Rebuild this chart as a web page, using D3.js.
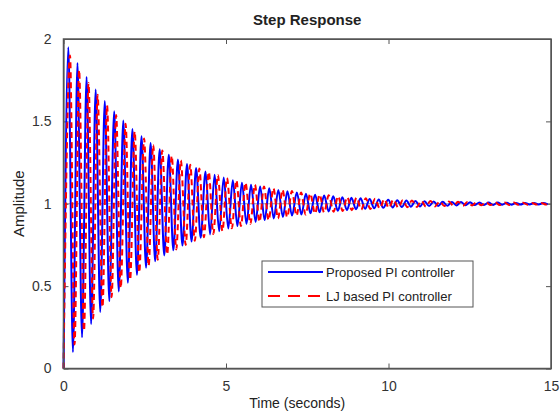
<!DOCTYPE html>
<html>
<head>
<meta charset="utf-8">
<script src="https://cdn.jsdelivr.net/npm/d3@7"></script>
<style>
  body { margin: 0; background: #fff; }
  svg { font-family: "Liberation Sans", Arial, sans-serif; }
  .axis path, .axis line { stroke: #555; }
  .axis text { fill: #333; font-size: 14px; }
</style>
</head>
<body>
<div class="chart"></div>
<script>
// Chart data
var xTicks = [0, 5, 10, 15];
var yTicks = [0, 0.5, 1, 1.5, 2];
var finalValue = 1;
var seriesNames = ["Proposed PI controller", "LJ based PI controller"];

// Proposed PI controller: start point and successive peaks / troughs
var propT = [0, 0.15, 0.29, 0.43, 0.57, 0.71, 0.85, 0.99, 1.13, 1.27, 1.41, 1.56, 1.70, 1.84, 1.98, 2.12, 2.26, 2.40, 2.54, 2.68, 2.82,
  2.96, 3.10, 3.24, 3.38, 3.52, 3.66, 3.80, 3.94, 4.08, 4.22, 4.37, 4.51, 4.65, 4.79, 4.93, 5.07, 5.21, 5.35, 5.49, 5.63,
  5.77, 5.91, 6.05, 6.19, 6.33, 6.47, 6.61, 6.75, 6.89, 7.03, 7.18, 7.32, 7.46, 7.60, 7.74, 7.88, 8.02, 8.16, 8.30, 8.44,
  8.58, 8.72, 8.86, 9.00, 9.14, 9.28, 9.42, 9.56, 9.70, 9.84, 9.99, 10.13, 10.27, 10.41, 10.55, 10.69, 10.83, 10.97, 11.11, 11.25,
  11.39, 11.53, 11.67, 11.81, 11.95, 12.09, 12.23, 12.37, 12.51, 12.65, 12.80, 12.94, 13.08, 13.22, 13.36, 13.50, 13.64, 13.78, 13.92, 14.06,
  14.20, 14.34, 14.48, 14.62, 14.76, 14.90];
var propY = [0, 1.95, 0.099, 1.855, 0.189, 1.77, 0.27, 1.693, 0.343, 1.623, 0.409, 1.561, 0.468, 1.505, 0.521, 1.454, 0.569, 1.409, 0.612, 1.368, 0.651,
  1.331, 0.686, 1.298, 0.717, 1.268, 0.746, 1.241, 0.771, 1.217, 0.794, 1.196, 0.814, 1.176, 0.833, 1.159, 0.85, 1.143, 0.865, 1.128, 0.878,
  1.116, 0.89, 1.104, 0.901, 1.094, 0.911, 1.084, 0.92, 1.076, 0.928, 1.068, 0.935, 1.061, 0.942, 1.055, 0.948, 1.05, 0.953, 1.045, 0.958,
  1.04, 0.962, 1.036, 0.966, 1.033, 0.969, 1.029, 0.972, 1.026, 0.975, 1.024, 0.978, 1.021, 0.98, 1.019, 0.982, 1.017, 0.984, 1.015, 0.986,
  1.014, 0.987, 1.012, 0.988, 1.011, 0.99, 1.01, 0.991, 1.009, 0.992, 1.008, 0.992, 1.007, 0.993, 1.007, 0.994, 1.006, 0.994, 1.005, 0.995,
  1.005, 0.996, 1.004, 0.996, 1.004, 0.996];

// LJ based PI controller: start point and successive peaks / troughs
var ljT = [0, 0.20, 0.34, 0.48, 0.63, 0.77, 0.91, 1.05, 1.20, 1.34, 1.48, 1.62, 1.76, 1.91, 2.05, 2.19, 2.33, 2.48, 2.62, 2.76, 2.90,
  3.04, 3.19, 3.33, 3.47, 3.61, 3.76, 3.90, 4.04, 4.18, 4.32, 4.47, 4.61, 4.75, 4.89, 5.03, 5.18, 5.32, 5.46, 5.60, 5.75,
  5.89, 6.03, 6.17, 6.31, 6.46, 6.60, 6.74, 6.88, 7.03, 7.17, 7.31, 7.45, 7.59, 7.74, 7.88, 8.02, 8.16, 8.31, 8.45, 8.59,
  8.73, 8.87, 9.02, 9.16, 9.30, 9.44, 9.59, 9.73, 9.87, 10.01, 10.15, 10.30, 10.44, 10.58, 10.72, 10.87, 11.01, 11.15, 11.29, 11.43,
  11.58, 11.72, 11.86, 12.00, 12.14, 12.29, 12.43, 12.57, 12.71, 12.86, 13.00, 13.14, 13.28, 13.42, 13.57, 13.71, 13.85, 13.99, 14.14, 14.28,
  14.42, 14.56, 14.70, 14.85, 14.99];
var ljY = [0, 1.90, 0.145, 1.812, 0.229, 1.733, 0.304, 1.662, 0.372, 1.597, 0.433, 1.539, 0.488, 1.486, 0.538, 1.439, 0.583, 1.396, 0.624, 1.357, 0.66,
  1.323, 0.693, 1.291, 0.723, 1.263, 0.75, 1.237, 0.775, 1.214, 0.797, 1.193, 0.816, 1.174, 0.834, 1.157, 0.851, 1.142, 0.865, 1.128, 0.878,
  1.116, 0.89, 1.104, 0.901, 1.094, 0.911, 1.085, 0.919, 1.077, 0.927, 1.069, 0.934, 1.062, 0.941, 1.056, 0.946, 1.051, 0.952, 1.046, 0.956,
  1.041, 0.961, 1.037, 0.964, 1.034, 0.968, 1.031, 0.971, 1.028, 0.974, 1.025, 0.976, 1.022, 0.979, 1.02, 0.981, 1.018, 0.983, 1.016, 0.984,
  1.015, 0.986, 1.013, 0.987, 1.012, 0.988, 1.011, 0.99, 1.01, 0.991, 1.009, 0.992, 1.008, 0.992, 1.007, 0.993, 1.007, 0.994, 1.006, 0.994,
  1.005, 0.995, 1.005, 0.995, 1.004];

// Set up chart
var svgWidth = 560;
var svgHeight = 412;
var margin = {top: 39, right: 9, bottom: 43.5, left: 63.5};
var width = svgWidth - margin.left - margin.right;
var height = svgHeight - margin.top - margin.bottom;

var svg = d3.select(".chart").append("svg")
  .attr("width", svgWidth)
  .attr("height", svgHeight);

var chart = svg.append("g")
  .attr("transform", "translate(" + margin.left + "," + margin.top + ")");

var x = d3.scaleLinear().domain([0, 15]).range([0, width]);
var y = d3.scaleLinear().domain([0, 2]).range([height, 0]);

// White plot box
chart.append("rect")
  .attr("width", width).attr("height", height)
  .attr("fill", "#fff");

// Axes, ticks inside, mirrored on top and right
chart.append("g").attr("class", "axis")
  .attr("transform", "translate(0," + height + ")")
  .call(d3.axisBottom(x).tickValues(xTicks).tickSizeInner(-5).tickSizeOuter(0).tickPadding(13));
chart.append("g").attr("class", "axis")
  .call(d3.axisLeft(y).tickValues(yTicks).tickSizeInner(-5).tickSizeOuter(0).tickPadding(12)
    .tickFormat(d3.format("")));
chart.append("g").attr("class", "axis")
  .call(d3.axisTop(x).tickValues(xTicks).tickSizeInner(-5).tickSizeOuter(0).tickFormat(""));
chart.append("g").attr("class", "axis")
  .attr("transform", "translate(" + width + ",0)")
  .call(d3.axisRight(y).tickValues(yTicks).tickSizeInner(-5).tickSizeOuter(0).tickFormat(""));

// Steady state line
chart.append("line")
  .attr("x1", x(0)).attr("x2", x(15))
  .attr("y1", y(finalValue)).attr("y2", y(finalValue))
  .attr("stroke", "#333").attr("stroke-width", 1)
  .attr("stroke-dasharray", "1,1");

var line = d3.line()
  .x(function(d) { return x(d[0]); })
  .y(function(d) { return y(d[1]); })
  .curve(d3.curveMonotoneX);

chart.append("path")
  .datum(d3.zip(propT, propY))
  .attr("d", line)
  .attr("fill", "none")
  .attr("stroke", "#0000ff")
  .attr("stroke-width", 2);

chart.append("path")
  .datum(d3.zip(ljT, ljY))
  .attr("d", line)
  .attr("fill", "none")
  .attr("stroke", "#ff0000")
  .attr("stroke-width", 2)
  .attr("stroke-dasharray", "6,4");

// Frame
chart.append("rect")
  .attr("width", width).attr("height", height)
  .attr("fill", "none").attr("stroke", "#555").attr("stroke-width", 1.5);

// Legend
var legend = svg.append("g").attr("transform", "translate(262,261)");
legend.append("rect")
  .attr("width", 211).attr("height", 46)
  .attr("fill", "#fff").attr("stroke", "#555");
var legendColors = ["#0000ff", "#ff0000"];
var legendDash = [null, "12,8"];
seriesNames.forEach(function(name, i) {
  legend.append("line")
    .attr("x1", 6).attr("x2", 61)
    .attr("y1", 11 + i * 24).attr("y2", 11 + i * 24)
    .attr("stroke", legendColors[i]).attr("stroke-width", 2)
    .attr("stroke-dasharray", legendDash[i]);
  legend.append("text")
    .attr("x", 64).attr("y", 16 + i * 24)
    .attr("fill", "#222").style("font-size", "13px")
    .text(name);
});

// Title and axis labels
svg.append("text")
  .attr("x", margin.left + width / 2).attr("y", 25)
  .attr("text-anchor", "middle")
  .style("font-size", "15px").style("font-weight", "bold").attr("fill", "#222")
  .text("Step Response");

svg.append("text")
  .attr("transform", "rotate(-90)")
  .attr("x", -(margin.top + height / 2)).attr("y", 24)
  .attr("text-anchor", "middle")
  .style("font-size", "15px").attr("fill", "#222")
  .text("Amplitude");

svg.append("text")
  .attr("x", margin.left + width / 2 - 10).attr("y", 408)
  .attr("text-anchor", "middle")
  .style("font-size", "14px").attr("fill", "#222")
  .text("Time (seconds)");
</script>
</body>
</html>
